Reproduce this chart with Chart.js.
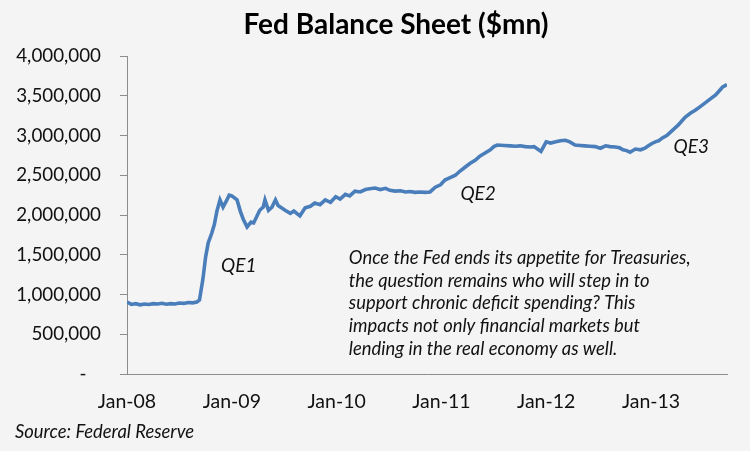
<!DOCTYPE html>
<html>
<head>
<meta charset="utf-8">
<script src="https://cdn.jsdelivr.net/npm/chart.js@4.4.1/dist/chart.umd.min.js"></script>
<style>
    html, body { margin: 0; padding: 0; background: #f4f4f4; }
    #wrap { width: 750px; height: 451px; position: relative; }
</style>
</head>
<body>
<div id="wrap"><canvas id="fedChart" width="750" height="451"></canvas></div>
<script>
// 月份序號 (0 = 2008年1月) 與資產負債表規模 (百萬美元)
const months = [
    0, 0.5, 1, 1.5, 2, 2.5, 3, 3.5, 4, 4.5, 5, 5.5, 6, 6.5, 7, 7.5, 8, 8.3,
    8.7, 9.0, 9.3, 9.7, 10.0, 10.3, 10.65, 11.0, 11.35, 11.7, 12.0, 12.6, 13.0, 13.3,
    13.75, 14.2, 14.5, 15.2, 15.6, 15.8, 16.2, 16.6, 17.0, 17.3, 18.1, 18.7, 19.1, 19.8,
    20.4, 21.0, 21.5, 22.1, 22.7, 23.3, 23.9, 24.4, 25.0, 25.5, 26.1, 26.7, 27.3, 27.8,
    28.4, 29.0, 29.6, 30.1, 30.7, 31.3, 31.9, 32.4, 33.0, 33.6, 34.1, 34.7, 35.3, 35.9,
    36.4, 37.0, 37.6, 38.1, 38.7, 39.3, 39.9, 40.4, 41.0, 41.6, 42.0, 42.4, 43.2, 43.9,
    44.5, 45.0, 45.6, 46.2, 46.6, 47.0, 47.4, 48.0, 48.5, 49.1, 49.6, 50.2, 50.7, 51.3,
    51.9, 52.4, 53.0, 53.6, 54.2, 54.8, 55.3, 55.9, 56.4, 56.8, 57.2, 57.6, 58.2, 58.8,
    59.3, 59.7, 60.1, 60.5, 60.9, 61.3, 61.8, 62.2, 62.7, 63.1, 63.5, 63.9, 64.5, 65.1,
    65.6, 66.2, 66.8, 67.4, 67.8, 68.2, 68.7
];
const balance = [
    905000, 875000, 885000, 870000, 880000, 875000, 885000, 880000, 890000, 878000, 885000, 880000, 893000, 888000, 900000, 895000, 905000, 930000,
    1200000, 1470000, 1650000, 1770000, 1880000, 2050000, 2190000, 2100000, 2170000, 2250000, 2240000, 2190000, 2040000, 1950000,
    1850000, 1910000, 1900000, 2060000, 2100000, 2190000, 2060000, 2100000, 2190000, 2120000, 2060000, 2020000, 2050000, 1990000,
    2090000, 2110000, 2150000, 2130000, 2190000, 2160000, 2230000, 2200000, 2260000, 2240000, 2300000, 2290000, 2320000, 2330000,
    2340000, 2320000, 2335000, 2310000, 2300000, 2305000, 2290000, 2295000, 2285000, 2290000, 2285000, 2290000, 2350000, 2380000,
    2440000, 2470000, 2500000, 2550000, 2600000, 2650000, 2690000, 2740000, 2780000, 2820000, 2860000, 2880000, 2875000, 2870000,
    2865000, 2870000, 2860000, 2855000, 2860000, 2830000, 2800000, 2920000, 2905000, 2920000, 2935000, 2940000, 2920000, 2880000,
    2875000, 2870000, 2865000, 2860000, 2840000, 2870000, 2860000, 2855000, 2845000, 2820000, 2810000, 2790000, 2830000, 2820000,
    2840000, 2870000, 2900000, 2920000, 2935000, 2970000, 3000000, 3040000, 3090000, 3130000, 3180000, 3230000, 3280000, 3320000,
    3360000, 3410000, 3460000, 3510000, 3560000, 3610000, 3640000, 3660000, 3720000
];
const tickMonths = [0, 12, 24, 36, 48, 60];
const tickLabels = ['Jan-08', 'Jan-09', 'Jan-10', 'Jan-11', 'Jan-12', 'Jan-13'];

const chartTitle = 'Fed Balance Sheet ($mn)';
const sourceText = 'Source: Federal Reserve';
const qeLabels = [
    { text: 'QE1', x: 12.8, y: 1360000 },
    { text: 'QE2', x: 40.2, y: 2260000 },
    { text: 'QE3', x: 64.6, y: 2860000 }
];
const noteLines = [
    'Once the Fed ends its appetite for Treasuries,',
    'the question remains who will step in to',
    'support chronic deficit spending? This',
    'impacts not only financial markets but',
    'lending in the real economy as well.'
];

const baseFont = 'Lato, "Open Sans", sans-serif';

// 自訂外掛：標題、QE 標註、說明文字與資料來源
const textPlugin = {
    id: 'textPlugin',
    beforeDraw(chart) {
        const c = chart.ctx;
        c.save();
        c.fillStyle = '#f4f4f4';
        c.fillRect(0, 0, chart.width, chart.height);
        c.restore();
    },
    afterDraw(chart) {
        const c = chart.ctx;
        const xs = chart.scales.x, ys = chart.scales.y;
        c.save();
        c.fillStyle = '#000';
        c.textBaseline = 'middle';

        c.font = 'bold 28px ' + baseFont;
        c.textAlign = 'center';
        c.fillText(chartTitle, 396, 25);

        c.font = 'italic 19px ' + baseFont;
        c.fillStyle = '#111';
        qeLabels.forEach(q => {
            c.fillText(q.text, xs.getPixelForValue(q.x), ys.getPixelForValue(q.y));
        });

        c.textAlign = 'left';
        c.font = 'italic 18.4px ' + baseFont;
        const noteX = xs.getPixelForValue(25.4);
        const noteY = ys.getPixelForValue(1460000);
        noteLines.forEach((line, i) => {
            c.fillText(line, noteX, noteY + i * 22.8);
        });

        c.font = 'italic 18.4px ' + baseFont;
        c.fillText(sourceText, 15, 432);
        c.restore();
    }
};

new Chart(document.getElementById('fedChart').getContext('2d'), {
    type: 'line',
    data: {
        datasets: [{
            label: 'Fed Balance Sheet',
            data: months.map((m, i) => ({ x: m, y: balance[i] })),
            borderColor: '#4a7ebb',
            borderWidth: 3.6,
            pointRadius: 0,
            fill: false,
            tension: 0
        }]
    },
    options: {
        responsive: false,
        animation: false,
        devicePixelRatio: 1,
        layout: { padding: { left: 0, right: 23, top: 56, bottom: 0 } },
        scales: {
            x: {
                type: 'linear',
                min: 0,
                max: 68.7,
                afterBuildTicks(scale) {
                    scale.ticks = tickMonths.map(v => ({ value: v }));
                },
                afterFit(scale) { scale.height = 77; },
                ticks: {
                    callback: (v) => tickLabels[tickMonths.indexOf(v)] || '',
                    color: '#111',
                    font: { family: baseFont, size: 19.5 },
                    padding: 16,
                    maxRotation: 0,
                    autoSkip: false
                },
                grid: { display: false, drawTicks: false },
                border: { display: true, color: '#8c8c8c', width: 1 }
            },
            y: {
                min: 0,
                max: 4000000,
                afterFit(scale) { scale.width = 127; },
                ticks: {
                    stepSize: 500000,
                    callback: (v) => v === 0 ? '-   ' : v.toLocaleString('en-US'),
                    color: '#111',
                    font: { family: baseFont, size: 18.8 },
                    padding: 19
                },
                grid: { drawOnChartArea: false, drawTicks: true, tickLength: 7, color: '#8c8c8c' },
                border: { display: true, color: '#8c8c8c', width: 1 }
            }
        },
        plugins: {
            legend: { display: false },
            tooltip: { enabled: false }
        }
    },
    plugins: [textPlugin]
});
</script>
</body>
</html>
